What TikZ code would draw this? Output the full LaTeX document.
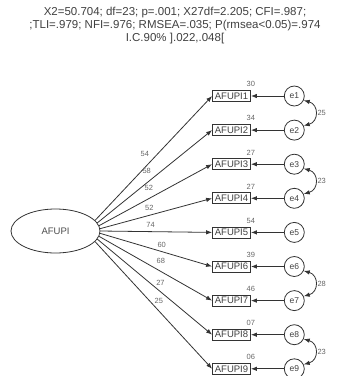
\documentclass[tikz,border=0pt]{standalone}
\usepackage{fontspec}
\setmainfont{Liberation Sans}
\usetikzlibrary{arrows.meta,positioning,shapes.geometric}

\begin{document}
\begin{tikzpicture}[
  x=1pt, y=1pt,
  node distance=22.3pt and 33pt,
  item/.style={draw=black!80, line width=0.8pt, minimum width=38pt,
    minimum height=11pt, inner sep=0pt, text=black!75,
    font=\fontsize{9.5}{10}\selectfont},
  err/.style={draw=black!80, line width=0.8pt, circle, minimum size=20pt,
    inner sep=0pt, text=black!75, font=\fontsize{8.5}{9}\selectfont},
  latent/.style={draw=black!80, line width=0.8pt, ellipse, minimum width=89pt,
    minimum height=44pt, inner sep=0pt, text=black!70,
    font=\fontsize{9.5}{10}\selectfont},
  path/.style={-{Latex[length=6pt,width=4.5pt]}, draw=black!80, line width=0.8pt},
  cov/.style={{Latex[length=6pt,width=4.5pt]}-{Latex[length=6pt,width=4.5pt]},
    draw=black!80, line width=0.8pt},
  coef/.style={font=\fontsize{7.5}{8}\selectfont, text=black!60, inner sep=1pt},
  fitstats/.style={align=center, inner sep=0pt, text=black!75,
    font=\fontsize{11.5}{13}\selectfont}
]
\useasboundingbox (0,0) rectangle (349,-376);

\node[fitstats, anchor=north] (stats) at (175,-7)
  {X2=50.704; df=23; p=.001; X27df=2.205; CFI=.987;\\
   ;TLI=.979; NFI=.976; RMSEA=.035; P(rmsea<0.05)=.974\\
   I.C.90\% ].022,.048[};

% observed items
\node[item] (box1) at (231.5,-96) {AFUPI1};
\node[item, below=of box1] (box2) {AFUPI2};
\node[item, below=of box2] (box3) {AFUPI3};
\node[item, below=of box3] (box4) {AFUPI4};
\node[item, below=of box4] (box5) {AFUPI5};
\node[item, below=of box5] (box6) {AFUPI6};
\node[item, below=of box6] (box7) {AFUPI7};
\node[item, below=of box7] (box8) {AFUPI8};
\node[item, below=of box8] (box9) {AFUPI9};

% errors
\node[err, right=of box1] (e1) {e1};
\node[err, right=of box2] (e2) {e2};
\node[err, right=of box3] (e3) {e3};
\node[err, right=of box4] (e4) {e4};
\node[err, right=of box5] (e5) {e5};
\node[err, right=of box6] (e6) {e6};
\node[err, right=of box7] (e7) {e7};
\node[err, right=of box8] (e8) {e8};
\node[err, right=of box9] (e9) {e9};

% squared multiple correlations
\node[coef, above=2pt of box1.north east] (r1) {30};
\node[coef, above=2pt of box2.north east] (r2) {34};
\node[coef, above=2pt of box3.north east] (r3) {27};
\node[coef, above=2pt of box4.north east] (r4) {27};
\node[coef, above=2pt of box5.north east] (r5) {54};
\node[coef, above=2pt of box6.north east] (r6) {39};
\node[coef, above=2pt of box7.north east] (r7) {46};
\node[coef, above=2pt of box8.north east] (r8) {07};
\node[coef, above=2pt of box9.north east] (r9) {06};

\node[latent] (afupi) at (55.5,-231) {AFUPI};

% loadings
\draw[path] (afupi.15) -- node[coef, pos=.425, above=10pt] (l1) {54} (box1.west);
\draw[path] (afupi.11) -- node[coef, pos=.43, above=8pt] (l2) {58} (box2.west);
\draw[path] (afupi.7.5) -- node[coef, pos=.44, above=6.5pt] (l3) {52} (box3.west);
\draw[path] (afupi.3.5) -- node[coef, pos=.44, above=3.5pt] (l4) {52} (box4.west);
\draw[path] (afupi.0) -- node[coef, pos=.45, above=3pt] (l5) {74} (box5.west);
\draw[path] (afupi.-3.5) -- node[coef, pos=.55, above=3pt] (l6) {60} (box6.west);
\draw[path] (afupi.-7.5) -- node[coef, pos=.546, above=6pt] (l7) {68} (box7.west);
\draw[path] (afupi.-11) -- node[coef, pos=.55, above=5pt] (l8) {27} (box8.west);
\draw[path] (afupi.-15) -- node[coef, pos=.545, above=6pt] (l9) {25} (box9.west);

\draw[path] (e1) -- (box1);
\draw[path] (e2) -- (box2);
\draw[path] (e3) -- (box3);
\draw[path] (e4) -- (box4);
\draw[path] (e5) -- (box5);
\draw[path] (e6) -- (box6);
\draw[path] (e7) -- (box7);
\draw[path] (e8) -- (box8);
\draw[path] (e9) -- (box9);

% covariances
\draw[cov] (e1.-25) to[out=-15, in=15, looseness=1.6] node[coef, right=1pt] (c12) {25} (e2.25);
\draw[cov] (e3.-25) to[out=-15, in=15, looseness=1.6] node[coef, right=1pt] (c34) {23} (e4.25);
\draw[cov] (e6.-25) to[out=-15, in=15, looseness=1.6] node[coef, right=1pt] (c67) {28} (e7.25);
\draw[cov] (e8.-25) to[out=-15, in=15, looseness=1.6] node[coef, right=1pt] (c89) {23} (e9.25);
\end{tikzpicture}
\end{document}
